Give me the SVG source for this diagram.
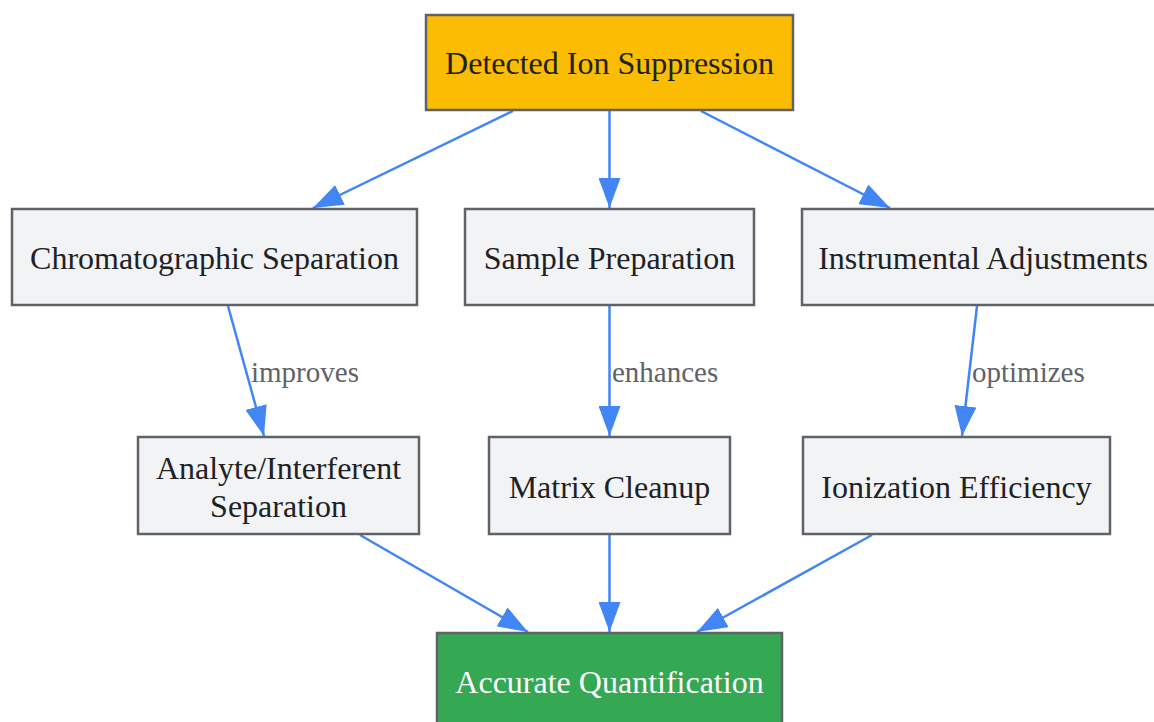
<svg xmlns="http://www.w3.org/2000/svg" width="1154" height="722" viewBox="0 0 1154 722">
<style>
.n rect{stroke:#5f6368;stroke-width:2.5}
.box{fill:#F1F3F4}
.t{font-family:"Liberation Serif","Times New Roman",serif;font-size:32px;fill:#202124;text-anchor:middle;dominant-baseline:central}
.e{stroke:#4285F4;stroke-width:2.5;fill:none}
.l{font-family:"Liberation Serif","Times New Roman",serif;font-size:29px;fill:#5f6368;dominant-baseline:central}
</style>
<defs>
<marker id="ah" markerUnits="userSpaceOnUse" markerWidth="30" markerHeight="22" refX="30" refY="11" orient="auto">
<path d="M0,0 L30,11 L0,22 z" fill="#4285F4"/>
</marker>
</defs>
<rect width="1154" height="722" fill="#ffffff"/>
<g id="connectors">
<line class="e" x1="513" y1="111" x2="313" y2="208" marker-end="url(#ah)"/>
<line class="e" x1="609.5" y1="111" x2="609.5" y2="208" marker-end="url(#ah)"/>
<line class="e" x1="701" y1="111" x2="890" y2="208" marker-end="url(#ah)"/>
<line class="e" x1="228" y1="306" x2="264" y2="436" marker-end="url(#ah)"/>
<line class="e" x1="609.5" y1="306" x2="609.5" y2="436" marker-end="url(#ah)"/>
<line class="e" x1="977" y1="306" x2="962" y2="436" marker-end="url(#ah)"/>
<line class="e" x1="360" y1="535" x2="528" y2="632" marker-end="url(#ah)"/>
<line class="e" x1="609.5" y1="535" x2="609.5" y2="632" marker-end="url(#ah)"/>
<line class="e" x1="872" y1="535" x2="697" y2="632" marker-end="url(#ah)"/>
<text class="l" x="251" y="372">improves</text>
<text class="l" x="612" y="372">enhances</text>
<text class="l" x="972" y="372">optimizes</text>
</g>
<g id="detected" class="n">
<rect x="426" y="15" width="367" height="95" fill="#FBBC04"/>
<text class="t" x="609.5" y="63">Detected Ion Suppression</text>
</g>
<g id="chromatographic" class="n">
<rect class="box" x="12" y="209" width="405" height="96"/>
<text class="t" x="214.5" y="258">Chromatographic Separation</text>
</g>
<g id="sample" class="n">
<rect class="box" x="465" y="209" width="289" height="96"/>
<text class="t" x="609.5" y="258">Sample Preparation</text>
</g>
<g id="instrumental" class="n">
<rect class="box" x="802" y="209" width="360" height="96"/>
<text class="t" x="983" y="258">Instrumental Adjustments</text>
</g>
<g id="analyte" class="n">
<rect class="box" x="138" y="437" width="281" height="97"/>
<text class="t" x="278.5" y="468">Analyte/Interferent</text>
<text class="t" x="278.5" y="506">Separation</text>
</g>
<g id="matrix" class="n">
<rect class="box" x="489" y="437" width="241" height="97"/>
<text class="t" x="609.5" y="487">Matrix Cleanup</text>
</g>
<g id="ionization" class="n">
<rect class="box" x="803" y="437" width="307" height="97"/>
<text class="t" x="956.5" y="487">Ionization Efficiency</text>
</g>
<g id="accurate" class="n">
<rect x="437" y="633" width="345" height="100" fill="#34A853"/>
<text class="t" x="609.5" y="682" style="fill:#ffffff">Accurate Quantification</text>
</g>
</svg>
